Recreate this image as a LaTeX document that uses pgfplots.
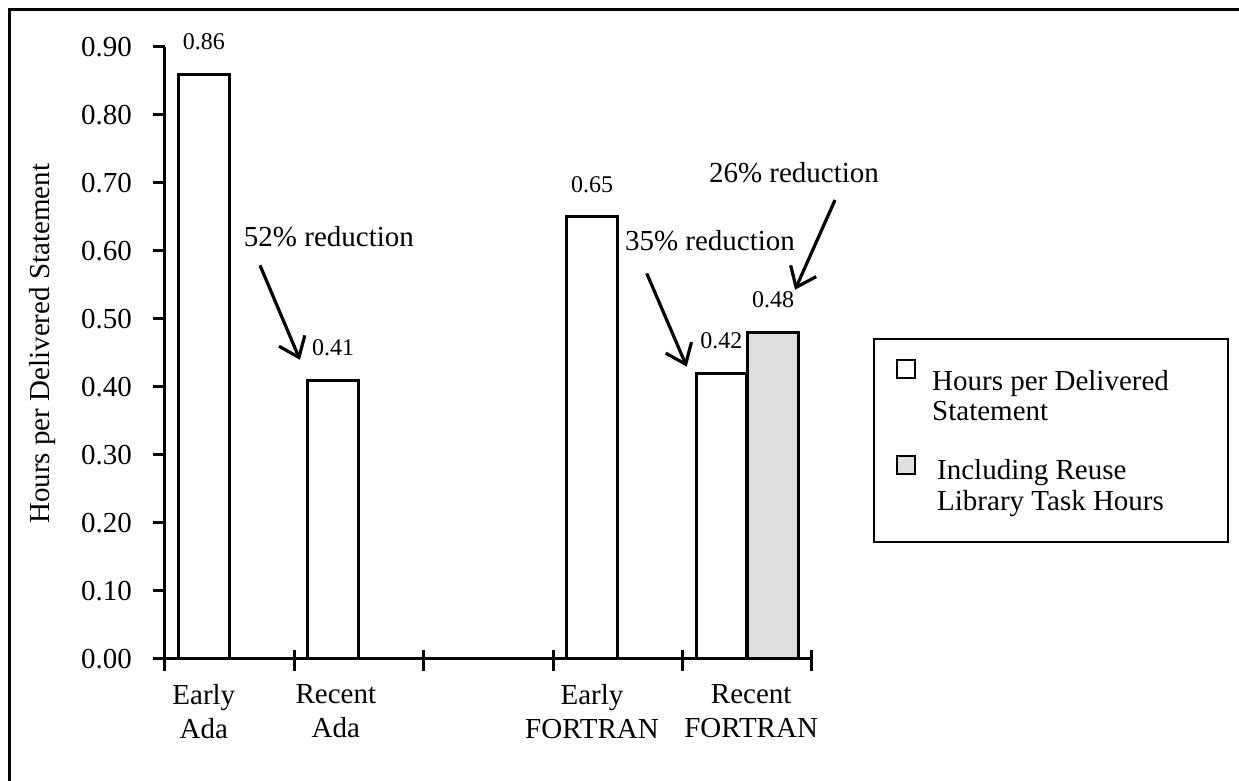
\documentclass[border=0pt]{standalone}
\usepackage{fontspec}
\setmainfont{Liberation Serif}
\usepackage{pgfplots}
\pgfplotsset{compat=1.18}
\usetikzlibrary{arrows.meta}

\newcommand{\lbl}{\fontsize{14.5}{17}\selectfont}

\begin{document}
\begin{tikzpicture}
\path[use as bounding box] (0,0) rectangle (619.5pt,390.5pt);
% page frame (top and left edge only, as scanned)
\draw[line width=1.5pt] (4.5pt,0) -- (4.5pt,385.5pt) -- (619.5pt,385.5pt);
\begin{axis}[
  at={(82.5pt,61pt)}, anchor=south west,
  scale only axis, width=323.5pt, height=306pt,
  ybar, bar width=0.39,
  clip=false,
  xmin=-0.5, xmax=4.5, ymin=0, ymax=0.9,
  axis x line=bottom, axis y line=left,
  axis line style={-, line width=1.5pt},
  tick align=outside, major tick length=6pt,
  tick style={line width=1.5pt, black},
  ytick={0,0.1,0.2,0.3,0.4,0.5,0.6,0.7,0.8,0.9},
  scaled y ticks=false,
  /pgf/number format/assume math mode=true,
  yticklabel style={font=\lbl, xshift=-7pt, /pgf/number format/fixed,
    /pgf/number format/fixed zerofill, /pgf/number format/precision=2},
  xtick={-0.2,0.82,2.8,4.03},
  xticklabels={Early\\Ada, Recent\\Ada, Early\\FORTRAN, Recent\\FORTRAN},
  xticklabel style={align=center, font=\lbl, yshift=-3pt},
  major x tick style={draw=none},
  minor xtick={-0.5,0.5,1.5,2.5,3.5,4.5},
  minor tick length=10.5pt,
  minor x tick style={line width=1.5pt, yshift=4.5pt},
  ylabel={Hours per Delivered Statement},
  ylabel style={font=\lbl, at={(axis description cs:-0.19,0.515)}, anchor=center},
  nodes near coords,
  nodes near coords style={font=\fontsize{12}{14}\selectfont, anchor=south,
    inner sep=0pt, yshift=11.5pt, /pgf/number format/fixed,
    /pgf/number format/fixed zerofill, /pgf/number format/precision=2},
  legend cell align=left,
  legend style={at={(1.094,0.5245)}, anchor=north west, draw=black,
    line width=1pt, inner xsep=11pt, inner ysep=10pt, row sep=22.5pt,
    column sep=8pt, font=\fontsize{14.5}{15.25}\selectfont,
    nodes={inner sep=0pt}},
]
\addplot[fill=white, draw=black, line width=1.5pt, bar shift=-0.2,
  legend image code/.code={\draw[line width=1.2pt, fill=white]
    (0pt,5.5pt) rectangle (9pt,14.5pt);}]
  coordinates {(0,0.86) (1,0.41) (3,0.65) (4,0.42)};
\addlegendentry{\begin{tabular}{@{}p{137pt}@{}}Hours per Delivered\\Statement\end{tabular}}

\addplot[fill=gray!25, draw=black, line width=1.5pt, bar shift=0.2,
  legend image code/.code={\draw[line width=1.2pt, fill=gray!25]
    (0pt,2.5pt) rectangle (9pt,11.5pt);
    \path[draw=none, fill=none] (0pt,-21.75pt) -- (0pt,0pt);}]
  coordinates {(4,0.48)};
\addlegendentry{\begin{tabular}{@{}p{137pt}@{}}\hspace*{2.5pt}Including Reuse\\\hspace*{2.5pt}Library Task Hours\end{tabular}}

% annotations
\node[font=\lbl, anchor=base] at (axis cs:0.767,0.606) {52\% reduction};
\node[font=\lbl, anchor=base] at (axis cs:3.712,0.601) {35\% reduction};
\node[font=\lbl, anchor=base] at (axis cs:4.361,0.700) {26\% reduction};
\draw[line width=1.6pt, -{Straight Barb[length=9pt,width=14pt]}]
  (axis cs:0.234,0.579) -- (axis cs:0.543,0.440);
\draw[line width=1.6pt, -{Straight Barb[length=9pt,width=14pt]}]
  (axis cs:3.223,0.567) -- (axis cs:3.532,0.430);
\draw[line width=1.6pt, -{Straight Barb[length=9pt,width=14pt]}]
  (axis cs:4.678,0.675) -- (axis cs:4.369,0.543);
\end{axis}
\end{tikzpicture}
\end{document}
